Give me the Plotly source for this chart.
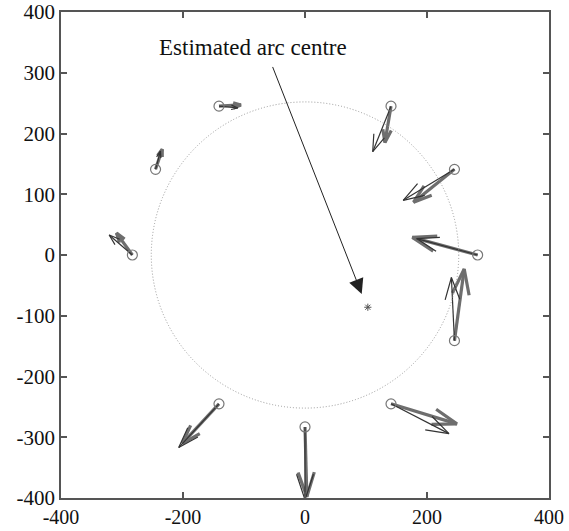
import plotly.graph_objects as go

# ---- data ----
base_x = [141, 245, 283, 245, 141, 0, -141, -283, -245, -141]
base_y = [245, 141, 0, -141, -245, -283, -245, 0, 141, 245]

thick_u = [-10, -67, -107, 16, 108, 3, -60, -26, 11, 36]
thick_v = [-60, -54, 29, 118, -33, -115, -65, 36, 33, 2]

thin_u = [-30, -84, -100, -5, 95, 0, -66, -38, 8, 31]
thin_v = [-75, -51, 27, 104, -49, -120, -72, 33, 30, -3]

circle_centre = (0, 0)
circle_radius = 252

arc_centre_x = [103]
arc_centre_y = [-86]

label_text = "Estimated arc centre"
label_pos = (-85, 342)
arrow_tail = (-54, 312)
arrow_tip = (93, -64)

tick_vals = [-400, -300, -200, -100, 0, 100, 200, 300, 400]
x_tick_vals = [-400, -200, 0, 200, 400]
x_tick_text = ["-400", "-200", "0", "200", "400"]
y_tick_text = ["-400", "-300", "-200", "-100", "0", "100", "200", "300", "400"]


def quiver_lines(xs, ys, us, vs, alpha=0.35, beta=0.33):
    lx, ly = [], []
    for x, y, u, v in zip(xs, ys, us, vs):
        tx, ty = x + u, y + v
        lx += [x, tx, None]
        ly += [y, ty, None]
        hx = [tx - alpha * (u + beta * v), tx, tx - alpha * (u - beta * v)]
        hy = [ty - alpha * (v - beta * u), ty, ty - alpha * (v + beta * u)]
        lx += hx + [None]
        ly += hy + [None]
    return lx, ly


SERIF = "Liberation Serif, Times New Roman, serif"

fig = go.Figure()

tx_, ty_ = quiver_lines(base_x, base_y, thick_u, thick_v)
fig.add_trace(go.Scatter(x=tx_, y=ty_, mode="lines",
                         line=dict(color="#6e6e6e", width=3.2),
                         hoverinfo="skip", showlegend=False))
nx_, ny_ = quiver_lines(base_x, base_y, thin_u, thin_v)
fig.add_trace(go.Scatter(x=nx_, y=ny_, mode="lines",
                         line=dict(color="#333333", width=1.2),
                         hoverinfo="skip", showlegend=False))

fig.add_trace(go.Scatter(x=base_x, y=base_y, mode="markers",
                         marker=dict(symbol="circle-open", size=10,
                                     color="#777777", line=dict(width=1.2)),
                         showlegend=False))

fig.add_trace(go.Scatter(x=arc_centre_x, y=arc_centre_y, mode="markers",
                         marker=dict(symbol="asterisk-open", size=6,
                                     color="#555555", line=dict(width=1)),
                         showlegend=False))

cx, cy = circle_centre
fig.add_shape(type="circle", xref="x", yref="y",
              x0=cx - circle_radius, x1=cx + circle_radius,
              y0=cy - circle_radius, y1=cy + circle_radius,
              line=dict(color="#999999", width=1, dash="1px,2px"))

fig.add_annotation(x=label_pos[0], y=label_pos[1], text=label_text,
                   showarrow=False, xref="x", yref="y",
                   font=dict(family=SERIF, size=23, color="#111111"))
fig.add_annotation(x=arrow_tip[0], y=arrow_tip[1], ax=arrow_tail[0], ay=arrow_tail[1],
                   xref="x", yref="y", axref="x", ayref="y", text="",
                   showarrow=True, arrowhead=2, arrowsize=3, arrowwidth=1,
                   arrowcolor="#222222", standoff=0, startstandoff=0)

axis_common = dict(range=[-400, 400], showgrid=False, zeroline=False,
                   showline=True, linecolor="#555555", linewidth=1.5,
                   mirror="allticks", ticks="inside", ticklen=6,
                   tickcolor="#555555", tickwidth=1.5, automargin=False,
                   tickfont=dict(family=SERIF, size=21, color="#111111"))

fig.update_xaxes(**axis_common, tickvals=x_tick_vals, ticktext=x_tick_text,
                 ticklabelstandoff=0)
fig.update_yaxes(**axis_common, tickvals=tick_vals, ticktext=y_tick_text,
                 ticklabelstandoff=0)
fig.update_xaxes(tickfont=dict(size=20))

fig.update_layout(width=569, height=531,
                  margin=dict(l=61, r=20, t=12, b=33),
                  plot_bgcolor="white", paper_bgcolor="white")

fig.write_html("out.html")
